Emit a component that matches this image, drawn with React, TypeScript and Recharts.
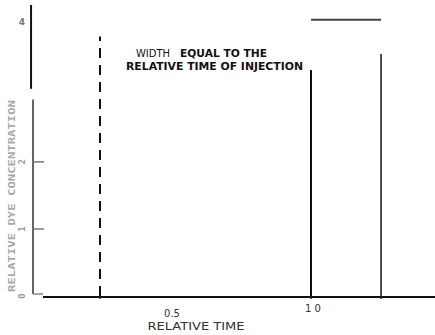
import React from "react";
import {
  LineChart,
  XAxis,
  YAxis,
  ReferenceLine,
  Customized,
} from "recharts";

// relative time (x) vs relative dye concentration (y)
const xTicks = [0.241, 0.5, 1.0, 1.252];
const xTickLabels = ["", "0.5", "1 0", ""];
const yTicks = [0, 1, 2, 4];
const yTickLabels = ["0", "1", "2", "4"];

const injectionX = 0.241;
const injectionTop = 3.87;
const pulseStart = 1.0;
const pulseEnd = 1.252;
const pulseStartTop = 3.37;
const pulseEndTop = 3.61;
const widthLevel = 4.12;

const xMax = 1.446;
const yMax = 4.34;

const dashedLine = [
  { x: injectionX, y: 0 },
  { x: injectionX, y: injectionTop },
];
const riseLine = [
  { x: pulseStart, y: 0 },
  { x: pulseStart, y: pulseStartTop },
];
const fallLine = [
  { x: pulseEnd, y: 0 },
  { x: pulseEnd, y: pulseEndTop },
];
const widthLine = [
  { x: pulseStart, y: widthLevel },
  { x: pulseEnd, y: widthLevel },
];
const baseLine = [
  { x: 0.036, y: -0.015 },
  { x: xMax, y: -0.015 },
];
const upperAxis = [
  { x: -0.007, y: 3.09 },
  { x: -0.007, y: yMax },
];
const lowerAxis = [
  { x: 0, y: 0.03 },
  { x: 0, y: 2.93 },
];
const axisFoot = [
  { x: 0, y: 0.03 },
  { x: 0.036, y: 0.03 },
];

const XTick = (props: any) => {
  const { x, y, payload, index } = props;
  const label = xTickLabels[index] ?? "";
  const v = payload.value;
  const hasMark = v !== 0.5;
  return (
    <g>
      {hasMark && <line x1={x} x2={x} y1={y} y2={y + 3} stroke="#222" strokeWidth={1.5} />}
      {label && (
        <text
          x={label === "1 0" ? x + 2 : x}
          y={label === "1 0" ? y + 16 : y + 21}
          textAnchor="middle"
          fontFamily="DejaVu Sans, Verdana, sans-serif"
          fontSize={10}
          fill="#333"
        >
          {label}
        </text>
      )}
    </g>
  );
};

const YTick = (props: any) => {
  const { x, y, payload, index } = props;
  const label = yTickLabels[index] ?? "";
  if (payload.value === 4) {
    return (
      <text
        x={x - 11}
        y={y - 3}
        textAnchor="middle"
        fontFamily="DejaVu Sans, Verdana, sans-serif"
        fontWeight="bold"
        fontSize={9}
        fill="#777"
      >
        {label}
      </text>
    );
  }
  return (
    <g>
      {payload.value !== 0 && (
        <line x1={x} x2={x + 11} y1={y} y2={y} stroke="#777" strokeWidth={1.5} />
      )}
      <text
        x={x - 8}
        y={y}
        transform={`rotate(-90, ${x - 8}, ${y})`}
        textAnchor="middle"
        fontFamily="DejaVu Sans Mono, monospace"
        fontWeight="bold"
        fontSize={9}
        fill="#999"
      >
        {label}
      </text>
    </g>
  );
};

const Notes = () => (
  <g fontFamily="DejaVu Sans, Verdana, sans-serif" fontSize={10}>
    <text x={136} y={57} fill="#111" textLength={34} lengthAdjust="spacingAndGlyphs">
      WIDTH
    </text>
    <text x={180} y={57} fill="#111" fontWeight="bold" textLength={87} lengthAdjust="spacingAndGlyphs">
      EQUAL TO THE
    </text>
    <text x={126} y={70} fill="#111" fontWeight="bold" textLength={177} lengthAdjust="spacingAndGlyphs">
      RELATIVE TIME OF INJECTION
    </text>
    <text
      x={15}
      y={196}
      transform="rotate(-90, 15, 196)"
      textAnchor="middle"
      fontFamily="DejaVu Sans Mono, monospace"
      fontWeight="bold"
      fontSize={9}
      fill="#a8a8a8"
      textLength={192}
      lengthAdjust="spacingAndGlyphs"
    >
      RELATIVE DYE CONCENTRATION
    </text>
    <text
      x={196}
      y={330}
      textAnchor="middle"
      fill="#333"
      fontSize={10}
      textLength={97}
      lengthAdjust="spacingAndGlyphs"
    >
      RELATIVE TIME
    </text>
  </g>
);

export default function App() {
  return (
    <div style={{ position: "absolute", left: 0, top: 0, background: "#fff" }}>
      <LineChart
        width={435}
        height={335}
        data={[]}
        margin={{ top: 5, right: 0, bottom: 0, left: 0 }}
      >
        <XAxis
          type="number"
          dataKey="x"
          domain={[0, xMax]}
          ticks={xTicks}
          tick={<XTick />}
          axisLine={false}
          tickLine={false}
          tickSize={0}
          tickMargin={0}
          height={39}
          allowDataOverflow
          interval={0}
        />
        <YAxis
          type="number"
          domain={[0, yMax]}
          ticks={yTicks}
          tick={<YTick />}
          axisLine={false}
          tickLine={false}
          tickSize={0}
          tickMargin={0}
          width={33}
          allowDataOverflow
          interval={0}
        />
        <ReferenceLine segment={upperAxis} stroke="#111" strokeWidth={2} ifOverflow="visible" />
        <ReferenceLine segment={lowerAxis} stroke="#666" strokeWidth={2} ifOverflow="visible" />
        <ReferenceLine segment={axisFoot} stroke="#888" strokeWidth={1.5} ifOverflow="visible" />
        <ReferenceLine segment={baseLine} stroke="#111" strokeWidth={2} ifOverflow="visible" />
        <ReferenceLine
          segment={dashedLine}
          stroke="#111"
          strokeWidth={2}
          strokeDasharray="10 7"
          ifOverflow="visible"
        />
        <ReferenceLine segment={riseLine} stroke="#111" strokeWidth={2} ifOverflow="visible" />
        <ReferenceLine segment={fallLine} stroke="#111" strokeWidth={1.5} ifOverflow="visible" />
        <ReferenceLine segment={widthLine} stroke="#444" strokeWidth={2} ifOverflow="visible" />
        <Customized component={Notes} />
      </LineChart>
    </div>
  );
}
